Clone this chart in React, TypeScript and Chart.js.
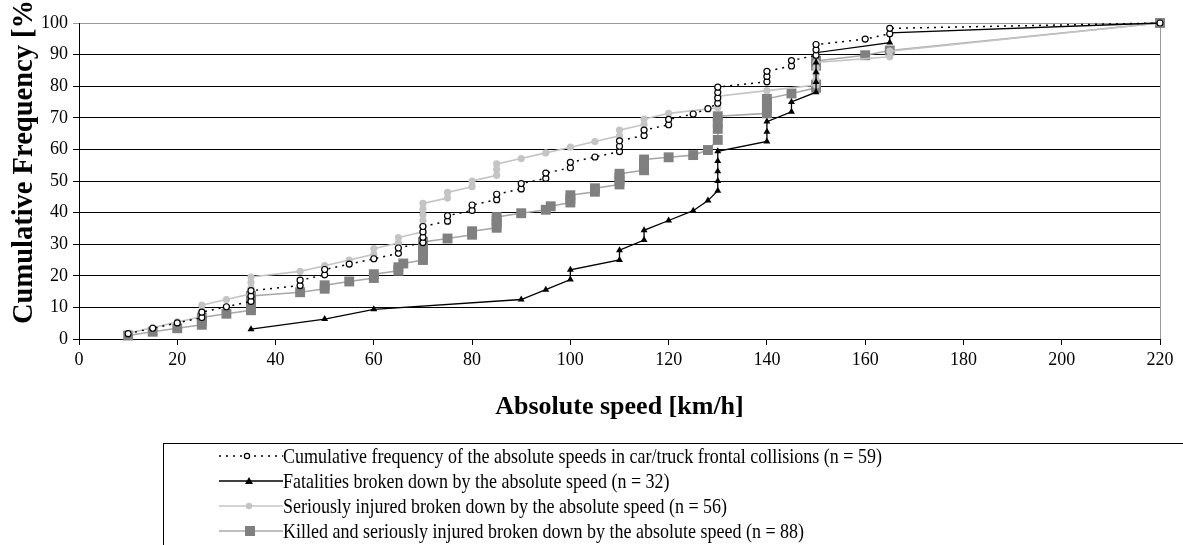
import React, { useEffect, useRef } from "react";
import { Chart, registerables } from "chart.js";

Chart.register(...registerables);

// ---------- DATA ----------
const xTickStep = 20;
const xMin = 0;
const xMax = 220;
const yMin = 0;
const yMax = 100;
const yTickStep = 10;

const xTitle = "Absolute speed [km/h]";
const yTitle = "Cumulative Frequency [%]";

const legendLabels = [
  "Cumulative frequency of the absolute speeds in car/truck frontal collisions (n = 59)",
  "Fatalities broken down by the absolute speed (n = 32)",
  "Seriously injured broken down by the absolute speed (n = 56)",
  "Killed and seriously injured broken down by the absolute speed (n = 88)",
];

// Cumulative frequency of absolute speeds (n = 59)
const cumSpeeds = [10, 15, 20, 25, 25, 30, 35, 35, 35, 45, 45, 50, 50, 55, 60, 65, 65, 70, 70, 70, 70, 75, 75, 80, 80, 85, 85, 90, 90, 95, 95, 100, 100, 105, 110, 110, 110, 115, 115, 120, 120, 125, 128, 130, 130, 130, 130, 140, 140, 140, 145, 145, 150, 150, 150, 160, 165, 165, 220];
const cumPct = [1.7, 3.4, 5.1, 6.8, 8.5, 10.2, 11.9, 13.6, 15.3, 16.9, 18.6, 20.3, 22.0, 23.7, 25.4, 27.1, 28.8, 30.5, 32.2, 33.9, 35.6, 37.3, 39.0, 40.7, 42.4, 44.1, 45.8, 47.5, 49.2, 50.8, 52.5, 54.2, 55.9, 57.6, 59.3, 61.0, 62.7, 64.4, 66.1, 67.8, 69.5, 71.2, 72.9, 74.6, 76.3, 78.0, 79.7, 81.4, 83.1, 84.7, 86.4, 88.1, 89.8, 91.5, 93.2, 94.9, 96.6, 98.3, 100];

// Fatalities (n = 32)
const fatSpeeds = [35, 50, 60, 90, 95, 100, 100, 110, 110, 115, 115, 120, 125, 128, 130, 130, 130, 130, 130, 140, 140, 140, 145, 145, 150, 150, 150, 150, 150, 165, 165, 220];
const fatPct = [3.1, 6.3, 9.4, 12.5, 15.6, 18.8, 21.9, 25.0, 28.1, 31.3, 34.4, 37.5, 40.6, 43.8, 46.9, 50.0, 53.1, 56.3, 59.4, 62.5, 65.6, 68.8, 71.9, 75.0, 78.1, 81.3, 84.4, 87.5, 90.6, 93.8, 96.9, 100];

// Seriously injured (n = 56)
const siSpeeds = [10, 15, 20, 25, 25, 25, 30, 35, 35, 35, 35, 45, 50, 55, 60, 60, 65, 65, 70, 70, 70, 70, 70, 70, 75, 75, 80, 80, 85, 85, 85, 90, 95, 100, 105, 110, 110, 115, 115, 120, 130, 130, 130, 140, 150, 150, 150, 150, 150, 165, 165, 220];
const siPct = [1.8, 3.6, 5.4, 7.1, 8.9, 10.7, 12.5, 14.3, 16.1, 17.9, 19.6, 21.4, 23.2, 25.0, 26.8, 28.6, 30.4, 32.1, 33.9, 35.7, 37.5, 39.3, 41.1, 42.9, 44.6, 46.4, 48.2, 50.0, 51.8, 53.6, 55.4, 57.1, 58.9, 60.7, 62.5, 64.3, 66.1, 67.9, 69.6, 71.4, 73.2, 75.0, 76.8, 78.6, 80.4, 82.1, 83.9, 85.7, 87.5, 89.3, 91.1, 100];

// Killed and seriously injured (n = 88)
const ksiSpeeds = [10, 15, 20, 25, 25, 25, 30, 35, 35, 35, 35, 35, 45, 50, 50, 55, 60, 60, 65, 65, 66, 70, 70, 70, 70, 70, 70, 75, 80, 80, 85, 85, 85, 85, 90, 95, 96, 100, 100, 100, 105, 105, 110, 110, 110, 110, 115, 115, 115, 115, 120, 125, 128, 130, 130, 130, 130, 140, 140, 140, 140, 145, 150, 150, 150, 150, 160, 165, 220];
const ksiPct = [1.1, 2.3, 3.4, 4.5, 5.7, 6.8, 8.0, 9.1, 10.2, 11.4, 12.5, 13.6, 14.8, 15.9, 17.0, 18.2, 19.3, 20.5, 21.6, 22.7, 23.9, 25.0, 26.1, 27.3, 28.4, 29.5, 30.7, 31.8, 33.0, 34.1, 35.2, 36.4, 37.5, 38.6, 39.8, 40.9, 42.0, 43.2, 44.3, 45.5, 46.6, 47.7, 48.9, 50.0, 51.1, 52.3, 53.4, 54.5, 55.7, 56.8, 57.5, 58.2, 59.8, 63.0, 66.5, 68.5, 70.5, 71.4, 73.0, 74.7, 76.0, 77.7, 79.5, 80.5, 86.5, 88.0, 89.8, 91.3, 100];

const SERIF = '"Liberation Serif", "Times New Roman", serif';

const toPoints = (xs: number[], ys: number[]) => xs.map((x, i) => ({ x, y: ys[i] }));

const framePlugin = {
  id: "frameAndTitle",
  beforeDatasetsDraw(chart: any) {
    const { ctx, chartArea: a } = chart;
    ctx.save();
    ctx.strokeStyle = "#9a9a9a";
    ctx.lineWidth = 1;
    ctx.beginPath();
    ctx.moveTo(Math.round(a.right) + 0.5, Math.round(a.top));
    ctx.lineTo(Math.round(a.right) + 0.5, Math.round(a.bottom));
    ctx.stroke();
    ctx.restore();
  },
  afterDraw(chart: any) {
    const { ctx } = chart;
    ctx.save();
    ctx.translate(32, 324);
    ctx.rotate(-Math.PI / 2);
    ctx.font = `bold 28.5px ${SERIF}`;
    ctx.fillStyle = "#000";
    ctx.textAlign = "left";
    ctx.textBaseline = "alphabetic";
    ctx.fillText(yTitle, 0, 0);
    ctx.restore();
  },
};

function LegendSample({ kind }: { kind: number }) {
  const w = 64;
  const c = 12;
  if (kind === 0) {
    return (
      <svg width={w} height={24}>
        <line x1={0} y1={c} x2={w} y2={c} stroke="#000" strokeWidth={1.4} strokeDasharray="2 5" />
        <circle cx={28} cy={c} r={2.6} fill="#fff" stroke="#000" strokeWidth={1.2} />
      </svg>
    );
  }
  if (kind === 1) {
    return (
      <svg width={w} height={24}>
        <line x1={0} y1={c} x2={w} y2={c} stroke="#000" strokeWidth={1.3} />
        <polygon points={`${30 - 4},${c + 3} ${30 + 4},${c + 3} ${30},${c - 4}`} fill="#000" />
      </svg>
    );
  }
  if (kind === 2) {
    return (
      <svg width={w} height={24}>
        <line x1={0} y1={c} x2={w} y2={c} stroke="#c4c4c4" strokeWidth={1.5} />
        <circle cx={30} cy={c} r={3.2} fill="#c4c4c4" />
      </svg>
    );
  }
  return (
    <svg width={w} height={24}>
      <line x1={0} y1={c} x2={w} y2={c} stroke="#a8a8a8" strokeWidth={1.5} />
      <rect x={26} y={c - 5} width={10} height={10} fill="#808080" />
    </svg>
  );
}

export default function App() {
  const canvasRef = useRef<HTMLCanvasElement | null>(null);

  useEffect(() => {
    document.body.style.margin = "0";
    const canvas = canvasRef.current;
    if (!canvas) return;
    const chart = new Chart(canvas, {
      type: "line",
      data: {
        datasets: [
          {
            label: legendLabels[0],
            data: toPoints(cumSpeeds, cumPct),
            borderColor: "#000",
            borderWidth: 1.5,
            borderDash: [2, 5],
            pointStyle: "circle",
            pointRadius: 3,
            pointBackgroundColor: "#fff",
            pointBorderColor: "#000",
            pointBorderWidth: 1.2,
            tension: 0,
            clip: false,
          },
          {
            label: legendLabels[1],
            data: toPoints(fatSpeeds, fatPct),
            borderColor: "#000",
            borderWidth: 1.3,
            pointStyle: "triangle",
            pointRadius: 4,
            pointBackgroundColor: "#000",
            pointBorderColor: "#000",
            pointBorderWidth: 0,
            tension: 0,
            clip: false,
          },
          {
            label: legendLabels[2],
            data: toPoints(siSpeeds, siPct),
            borderColor: "#c4c4c4",
            borderWidth: 1.6,
            pointStyle: "circle",
            pointRadius: 3.6,
            pointBackgroundColor: "#c4c4c4",
            pointBorderColor: "#c4c4c4",
            pointBorderWidth: 0,
            tension: 0,
            clip: false,
          },
          {
            label: legendLabels[3],
            data: toPoints(ksiSpeeds, ksiPct),
            borderColor: "#a8a8a8",
            borderWidth: 1.6,
            pointStyle: "rect",
            pointRadius: 7,
            pointBackgroundColor: "#808080",
            pointBorderColor: "#808080",
            pointBorderWidth: 0,
            tension: 0,
            clip: false,
          },
        ],
      },
      options: {
        animation: false,
        responsive: false,
        maintainAspectRatio: false,
        devicePixelRatio: 1,
        layout: { padding: { left: 0, top: 23, right: 23, bottom: 122 } },
        plugins: {
          legend: { display: false },
          tooltip: { enabled: false },
        },
        scales: {
          x: {
            type: "linear",
            min: xMin,
            max: xMax,
            afterFit: (s: any) => {
              s.height = 84;
            },
            ticks: {
              stepSize: xTickStep,
              color: "#000",
              font: { family: SERIF, size: 18 },
              padding: 4,
              maxRotation: 0,
            },
            grid: {
              drawOnChartArea: false,
              drawTicks: true,
              tickLength: 6,
              color: "#000",
              lineWidth: 1,
            },
            border: { color: "#000", width: 1 },
            title: {
              display: true,
              text: xTitle,
              color: "#000",
              font: { family: SERIF, size: 26, weight: "bold" },
              padding: { top: 0, bottom: 0 },
            },
          },
          y: {
            type: "linear",
            min: yMin,
            max: yMax,
            afterFit: (s: any) => {
              s.width = 79;
            },
            ticks: {
              stepSize: yTickStep,
              color: "#000",
              font: { family: SERIF, size: 18 },
              padding: 5,
            },
            grid: {
              drawTicks: true,
              tickLength: 6,
              color: (ctx: any) => (ctx.tick && ctx.tick.value === yMax ? "#9a9a9a" : "#000"),
              lineWidth: 1,
            },
            border: { color: "#000", width: 1 },
          },
        },
      },
      plugins: [framePlugin],
    } as any);
    return () => chart.destroy();
  }, []);

  const rowCenters = [456, 481, 506, 531];
  const boxTop = 443;
  const boxLeft = 163;

  return (
    <div
      style={{
        position: "fixed",
        left: 0,
        top: 0,
        width: 1183,
        height: 545,
        overflow: "hidden",
        background: "#fff",
      }}
    >
      <canvas ref={canvasRef} width={1183} height={545} style={{ display: "block", width: 1183, height: 545 }} />
      <div
        style={{
          position: "absolute",
          left: boxLeft,
          top: boxTop,
          width: 1100,
          height: 160,
          border: "1px solid #000",
          boxSizing: "border-box",
        }}
      >
        {legendLabels.map((label, i) => (
          <div
            key={i}
            style={{
              position: "absolute",
              left: 0,
              top: rowCenters[i] - boxTop - 1 - 12,
              height: 24,
              width: 1000,
            }}
          >
            <div style={{ position: "absolute", left: 219 - boxLeft - 1, top: 0 }}>
              <LegendSample kind={i} />
            </div>
            <span
              style={{
                position: "absolute",
                left: 283 - boxLeft - 1,
                top: 0,
                lineHeight: "24px",
                fontFamily: SERIF,
                fontSize: 18,
                color: "#000",
                whiteSpace: "nowrap",
                display: "inline-block",
                transform: "scaleY(1.12)",
                transformOrigin: "center",
              }}
            >
              {label}
            </span>
          </div>
        ))}
      </div>
    </div>
  );
}
